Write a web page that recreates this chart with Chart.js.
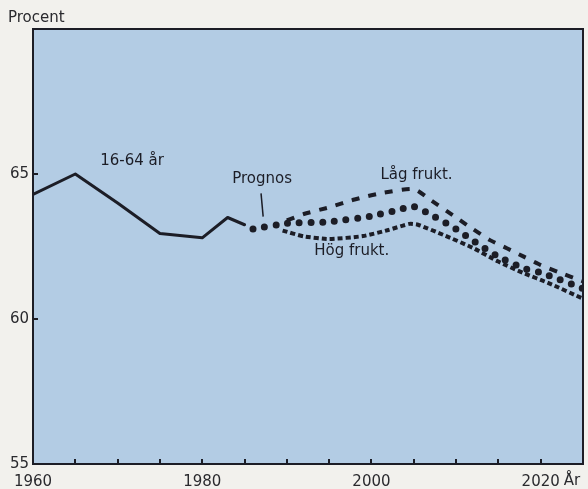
<!DOCTYPE html>
<html>
<head>
<meta charset="utf-8">
<script src="https://cdn.jsdelivr.net/npm/chart.js@4/dist/chart.umd.min.js"></script>
<style>
  html, body { margin: 0; padding: 0; background: #f2f1ed; }
  #wrap { width: 588px; height: 489px; position: relative; }
</style>
</head>
<body>
<div id="wrap"><canvas id="c" width="588" height="489"></canvas></div>
<script>
// ---- data ----
const histYears   = [1960, 1965, 1970, 1975, 1980, 1983, 1985];
const histValues  = [64.3, 65.0, 64.0, 62.95, 62.8, 63.5, 63.25];

const progYears   = [1986, 1990, 1995, 2000, 2003, 2005, 2007, 2010, 2012, 2015, 2018, 2020, 2025];
const progValues  = [63.1, 63.3, 63.35, 63.55, 63.75, 63.88, 63.6, 63.1, 62.7, 62.15, 61.75, 61.6, 61.05];

const lowYears    = [1990, 1992, 1995, 1998, 2001, 2005, 2007, 2010, 2012, 2014, 2016, 2018, 2020, 2022, 2025];
const lowValues   = [63.4, 63.62, 63.85, 64.12, 64.33, 64.48, 64.1, 63.5, 63.1, 62.72, 62.44, 62.15, 61.86, 61.63, 61.3];

const highYears   = [1989.5, 1992, 1995, 1999, 2002, 2004.5, 2005.5, 2008.5, 2012, 2015, 2018, 2021, 2025];
const highValues  = [63.05, 62.85, 62.76, 62.86, 63.07, 63.28, 63.25, 62.9, 62.45, 61.98, 61.58, 61.23, 60.7];

const xTickLabels = [1960, 1980, 2000, 2020];
const yTickLabels = [55, 60, 65];

const seriesLabels = ['16-64 år', 'Prognos', 'Låg frukt.', 'Hög frukt.'];

// ---- build ----
const toPts = (xs, ys) => xs.map((x, i) => ({ x: x, y: ys[i] }));
const INK = '#1c1d26';
const FONT = 'DejaVu Sans';

// annotation anchors (data units)
const notes = [
  { text: seriesLabels[0], x: 1971.7, y: 65.45 },
  { text: seriesLabels[1], x: 1987.07, y: 64.83 },
  { text: seriesLabels[2], x: 2005.32, y: 64.97 },
  { text: seriesLabels[3], x: 1997.67, y: 62.33 }
];
const leader = [{ x: 1986.95, y: 64.33 }, { x: 1987.2, y: 63.53 }];

const decor = {
  id: 'decor',
  beforeDraw(chart) {
    const ctx = chart.ctx, a = chart.chartArea;
    ctx.save();
    ctx.fillStyle = '#f2f1ed';
    ctx.fillRect(0, 0, chart.width, chart.height);
    ctx.fillStyle = '#b3cce4';
    ctx.fillRect(a.left, a.top, a.right - a.left, a.bottom - a.top);
    ctx.restore();
  },
  afterDraw(chart) {
    const ctx = chart.ctx, a = chart.chartArea;
    const xs = chart.scales.x, ys = chart.scales.y;
    ctx.save();
    // frame
    ctx.strokeStyle = INK;
    ctx.lineWidth = 2;
    ctx.strokeRect(a.left, a.top, a.right - a.left, a.bottom - a.top);
    // inward ticks
    ctx.lineWidth = 2;
    ctx.beginPath();
    for (let yr = 1965; yr < 2025; yr += 5) {
      const px = Math.round(xs.getPixelForValue(yr));
      ctx.moveTo(px, a.bottom);
      ctx.lineTo(px, a.bottom - 5);
    }
    [60, 65].forEach(v => {
      const py = Math.round(ys.getPixelForValue(v));
      ctx.moveTo(a.left, py);
      ctx.lineTo(a.left + 5, py);
    });
    ctx.stroke();
    // texts
    ctx.fillStyle = INK;
    ctx.font = '15px "' + FONT + '"';
    ctx.textBaseline = 'middle';
    ctx.textAlign = 'center';
    notes.forEach(n => {
      ctx.fillText(n.text, xs.getPixelForValue(n.x), ys.getPixelForValue(n.y));
    });
    // leader line for Prognos
    ctx.lineWidth = 1.5;
    ctx.beginPath();
    ctx.moveTo(xs.getPixelForValue(leader[0].x), ys.getPixelForValue(leader[0].y));
    ctx.lineTo(xs.getPixelForValue(leader[1].x), ys.getPixelForValue(leader[1].y));
    ctx.stroke();
    // axis unit texts
    ctx.fillStyle = '#2a2a2e';
    ctx.textAlign = 'left';
    ctx.fillText('Procent', 8, 18);
    ctx.fillText('År', xs.getPixelForValue(2020) + 23, 481);
    ctx.restore();
  }
};

new Chart(document.getElementById('c'), {
  type: 'line',
  data: {
    datasets: [
      { label: seriesLabels[0], data: toPts(histYears, histValues), borderColor: INK, borderWidth: 3,
        pointRadius: 0, tension: 0, borderJoinStyle: 'round', borderCapStyle: 'round' },
      { label: seriesLabels[1], data: toPts(progYears, progValues), borderColor: INK, borderWidth: 7,
        borderDash: [0, 11.7], borderCapStyle: 'round', pointRadius: 0, tension: 0.2 },
      { label: seriesLabels[2], data: toPts(lowYears, lowValues), borderColor: INK, borderWidth: 4,
        borderDash: [8, 9], borderCapStyle: 'butt', pointRadius: 0, tension: 0.2 },
      { label: seriesLabels[3], data: toPts(highYears, highValues), borderColor: INK, borderWidth: 4,
        borderDash: [5, 3], borderCapStyle: 'butt', pointRadius: 0, tension: 0.2 }
    ]
  },
  options: {
    responsive: false,
    animation: false,
    devicePixelRatio: 1,
    layout: { padding: { top: 29, right: 5, left: 0, bottom: 0 } },
    plugins: { legend: { display: false }, tooltip: { enabled: false } },
    scales: {
      x: {
        type: 'linear', min: 1960, max: 2025,
        afterFit(s) { s.height = 25; },
        afterBuildTicks(s) { s.ticks = xTickLabels.map(v => ({ value: v })); },
        grid: { display: false, drawTicks: false },
        border: { display: false },
        ticks: { color: '#2a2a2e', font: { family: FONT, size: 15 }, padding: 9, maxRotation: 0,
                 autoSkip: false, callback: v => String(v) }
      },
      y: {
        type: 'linear', min: 55, max: 70,
        afterFit(s) { s.width = 33; },
        afterBuildTicks(s) { s.ticks = yTickLabels.map(v => ({ value: v })); },
        grid: { display: false, drawTicks: false },
        border: { display: false },
        ticks: { color: '#2a2a2e', font: { family: FONT, size: 15 }, padding: 4,
                 autoSkip: false, callback: v => String(v) }
      }
    }
  },
  plugins: [decor]
});
</script>
</body>
</html>
